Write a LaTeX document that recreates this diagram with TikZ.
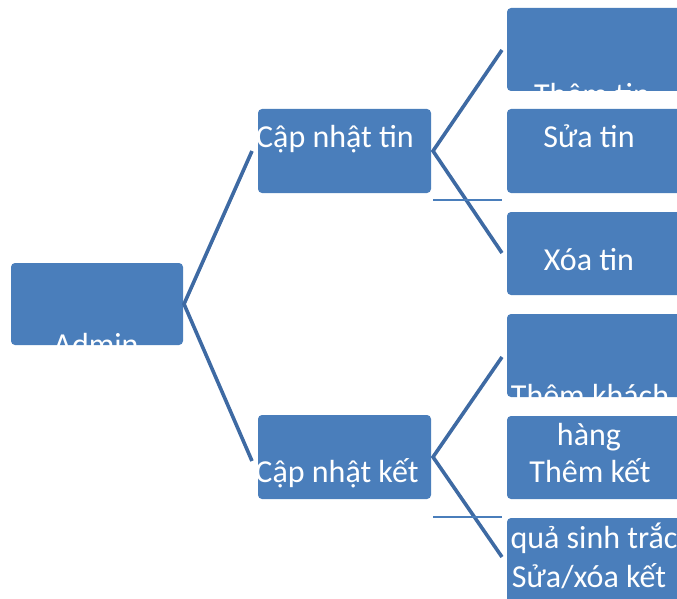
\documentclass[tikz,border=0pt]{standalone}
\usepackage{fontspec}
\setmainfont{Carlito}
\definecolor{boxblue}{HTML}{4A7EBB}
\definecolor{linkblue}{HTML}{3E6AA3}
\begin{document}
\begin{tikzpicture}[x=1pt,y=-1pt,
  box/.style={fill=boxblue, rounded corners=4pt},
  link/.style={draw=linkblue, line width=3.6pt},
  bar/.style={draw=boxblue, line width=2.4pt},
  lbl/.style={text=white, font=\fontsize{32}{38}\selectfont, inner sep=0pt, anchor=base}]
\useasboundingbox (0,0) rectangle (677,599);
% boxes
\path[box] (11,263) rectangle (183,345);
\path[box] (258,109) rectangle (431,193);
\path[box] (258,415) rectangle (431,499);
\path[box] (507,8) rectangle (684,91);
\path[box] (507,109) rectangle (684,193);
\path[box] (507,212) rectangle (684,295);
\path[box] (507,314) rectangle (684,397);
\path[box] (507,416) rectangle (684,499);
\path[box] (507,518) rectangle (684,605);
% connector anchors
\coordinate (a) at (184,304);
\coordinate (t1) at (252,151);
\coordinate (t2) at (252,461);
\coordinate (u) at (433,151);
\coordinate (u1) at (502,50);
\coordinate (u2) at (502,253);
\coordinate (ub1) at (433,200);
\coordinate (ub2) at (502,200);
\coordinate (v) at (433,457);
\coordinate (v1) at (502,357);
\coordinate (v2) at (502,557);
\coordinate (vb1) at (433,517);
\coordinate (vb2) at (502,517);
\draw[link] (t1) -- (a) -- (t2);
\draw[link] (u1) -- (u) -- (u2);
\draw[link] (v1) -- (v) -- (v2);
\draw[bar] (ub1) -- (ub2);
\draw[bar] (vb1) -- (vb2);
% texts, visible only on the boxes
\begin{scope}
\clip[rounded corners=4pt] (11,263) rectangle (183,345)
  (258,109) rectangle (431,193)
  (258,415) rectangle (431,499)
  (507,8) rectangle (684,91)
  (507,109) rectangle (684,193)
  (507,212) rectangle (684,295)
  (507,314) rectangle (684,397)
  (507,416) rectangle (684,499)
  (507,518) rectangle (684,605);
\node[lbl] (admin) at (96,355) {Admin};
\node[lbl] (cnt) at (335,147) {Cập nhật tin};
\node[lbl] (cnk) at (337,482) {Cập nhật kết};
\node[lbl] (them) at (592,106) {Thêm tin};
\node[lbl] (sua) at (589,147) {Sửa tin};
\node[lbl] (xoa) at (589,270) {Xóa tin};
\node[lbl] (tk1) at (590,406) {Thêm khách};
\node[lbl] (tk2) at (589,445) {hàng};
\node[lbl] (tq1) at (590,482) {Thêm kết};
\node[lbl] (tq2) at (594,548) {quả sinh trắc};
\node[lbl] (sx) at (589,587) {Sửa/xóa kết};
\end{scope}
\end{tikzpicture}
\end{document}
